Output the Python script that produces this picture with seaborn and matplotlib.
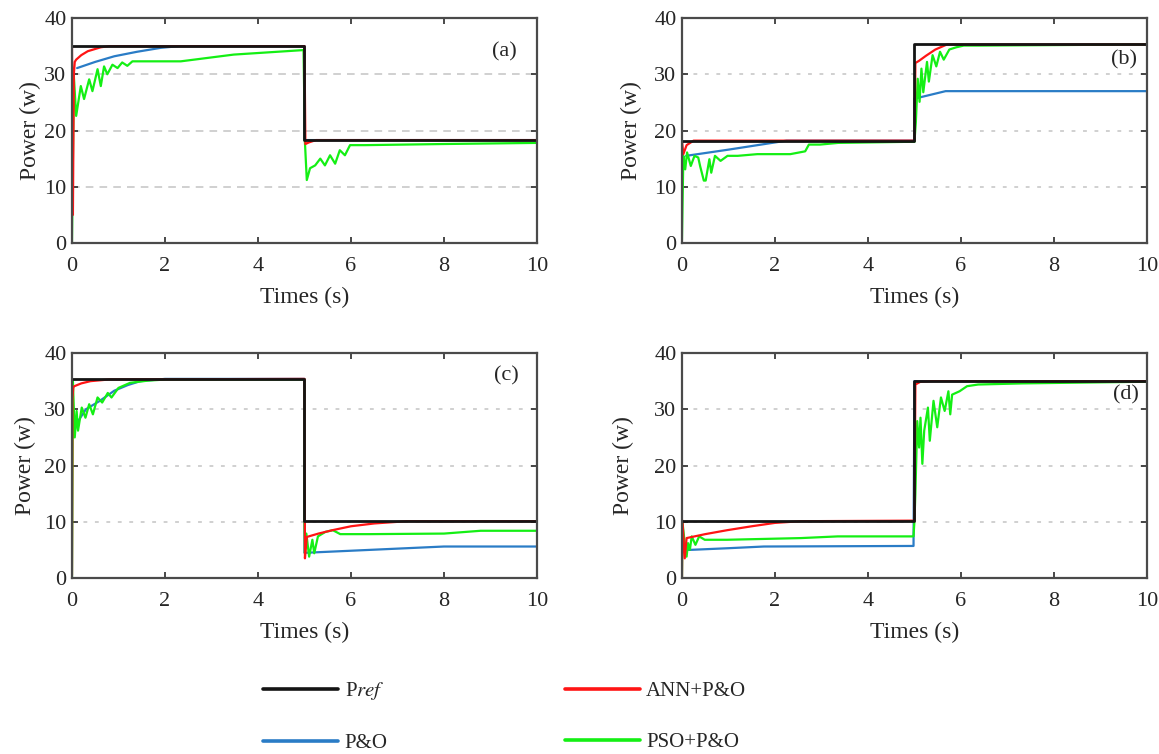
import matplotlib
matplotlib.use("Agg")
import matplotlib.pyplot as plt
from matplotlib.lines import Line2D
import seaborn as sns

# --- chart data ---
TIME_TICKS = [0, 2, 4, 6, 8, 10]
POWER_TICKS = [0, 10, 20, 30, 40]
PANEL_LABELS = ["(a)", "(b)", "(c)", "(d)"]
SERIES_NAMES = ["P$\\mathit{ref}$", "ANN+P&O", "P&O", "PSO+P&O"]

# (a) 35 W -> 18 W
a_pref_t = [0, 5, 5, 10]
a_pref_p = [35.0, 35.0, 18.3, 18.3]
a_ann_t = [0, 0.02, 0.04, 0.06, 0.09, 0.2, 0.34, 0.5, 0.62, 0.8, 5.0, 5.02, 5.1, 5.25, 10]
a_ann_p = [35.0, 5.0, 30.0, 32.2, 32.6, 33.4, 34.1, 34.5, 34.8, 35.0, 35.0, 17.6, 17.9, 18.3, 18.3]
a_po_t = [0.11, 0.5, 0.91, 1.4, 1.91, 2.3, 5.0, 5.0, 10]
a_po_p = [31.1, 32.2, 33.2, 34.0, 34.7, 35.0, 35.0, 18.3, 18.3]
a_pso_t = [0, 0.04, 0.09, 0.19, 0.26, 0.37, 0.44, 0.55, 0.62, 0.69, 0.76, 0.87, 0.98, 1.08,
           1.19, 1.3, 1.48, 2.34, 3.48, 4.98, 5.01, 5.05, 5.12, 5.23, 5.34, 5.44, 5.55, 5.66,
           5.76, 5.87, 5.98, 6.3, 8.0, 10]
a_pso_p = [0, 29.7, 22.6, 27.9, 25.6, 29.1, 27.0, 30.9, 27.9, 31.4, 30.0, 31.7, 31.1, 32.1,
           31.5, 32.3, 32.3, 32.3, 33.5, 34.3, 17.9, 11.2, 13.3, 13.8, 15.0, 13.8, 15.6, 14.1,
           16.5, 15.6, 17.4, 17.4, 17.6, 17.8]

# (b) 18 W -> 35 W
b_pref_t = [0, 5, 5, 10]
b_pref_p = [18.2, 18.2, 35.3, 35.3]
b_ann_t = [0, 0.03, 0.1, 0.25, 5.0, 5.02, 5.1, 5.25, 5.45, 5.7, 10]
b_ann_p = [18.2, 15.8, 17.4, 18.2, 18.2, 32.0, 32.4, 33.3, 34.4, 35.3, 35.3]
b_po_t = [0.09, 1.0, 2.25, 5.0, 5.0, 5.07, 5.67, 10]
b_po_p = [15.5, 16.6, 18.2, 18.2, 25.7, 25.8, 27.0, 27.0]
b_pso_t = [0, 0.03, 0.07, 0.11, 0.19, 0.27, 0.35, 0.39, 0.47, 0.51, 0.59, 0.63, 0.71, 0.83,
           0.98, 1.2, 1.62, 2.33, 2.65, 2.73, 2.97, 3.36, 4.95, 5.0, 5.03, 5.07, 5.11, 5.15,
           5.19, 5.27, 5.31, 5.39, 5.47, 5.55, 5.63, 5.75, 5.9, 6.06, 6.4, 10]
b_pso_p = [0.5, 15.5, 13.1, 16.1, 13.7, 15.5, 15.2, 13.7, 11.1, 11.1, 14.9, 12.5, 15.5, 14.6,
           15.5, 15.5, 15.8, 15.8, 16.3, 17.5, 17.5, 17.8, 18.0, 18.0, 21.5, 29.2, 25.1, 31.0,
           26.8, 32.2, 28.7, 33.4, 31.4, 34.0, 32.6, 34.4, 34.8, 35.1, 35.1, 35.3]

# (c) 35 W -> 10 W
c_pref_t = [0, 5, 5, 10]
c_pref_p = [35.4, 35.4, 10.1, 10.1]
c_ann_t = [0, 0.01, 0.03, 0.05, 0.2, 0.4, 0.8, 5.0, 5.01, 5.05, 5.3, 5.6, 6.0, 6.5, 7.2, 10]
c_ann_p = [0.5, 32.0, 34.0, 34.1, 34.6, 35.0, 35.3, 35.4, 3.5, 7.3, 7.9, 8.5, 9.2, 9.7, 10.1, 10.1]
c_po_t = [0.02, 0.1, 0.3, 0.6, 0.91, 1.2, 1.47, 2.0, 5.0, 5.0, 5.06, 6.4, 8.0, 10]
c_po_p = [25.0, 27.5, 30.0, 31.5, 33.3, 34.3, 35.0, 35.4, 35.4, 4.5, 4.5, 5.0, 5.6, 5.6]
c_pso_t = [0, 0.02, 0.06, 0.1, 0.13, 0.21, 0.29, 0.37, 0.45, 0.55, 0.65, 0.77, 0.85, 1.0,
           1.25, 1.64, 2.04, 5.0, 5.0, 5.01, 5.04, 5.1, 5.17, 5.21, 5.29, 5.45, 5.61, 5.77,
           6.4, 8.0, 8.79, 10]
c_pso_p = [0, 35.0, 25.0, 29.7, 26.2, 30.3, 28.5, 30.9, 29.1, 32.1, 31.2, 32.9, 32.1, 33.8,
           34.7, 35.1, 35.3, 35.3, 10.0, 4.4, 7.9, 3.8, 6.8, 4.4, 7.4, 8.2, 8.5, 7.8,
           7.8, 7.9, 8.4, 8.4]

# (d) 10 W -> 35 W
d_pref_t = [0, 5, 5, 10]
d_pref_p = [10.2, 10.2, 35.0, 35.0]
d_ann_t = [0, 0.01, 0.06, 0.1, 0.5, 0.97, 1.5, 2.0, 2.55, 5.0, 5.02, 5.13, 5.4, 10]
d_ann_p = [0, 10.2, 3.5, 7.1, 7.8, 8.5, 9.2, 9.8, 10.1, 10.2, 34.4, 34.9, 35.0, 35.0]
d_po_t = [0.06, 0.17, 1.0, 1.76, 4.98, 5.0, 10]
d_po_p = [5.0, 5.0, 5.3, 5.6, 5.7, 35.0, 35.0]
d_pso_t = [0, 0.01, 0.06, 0.1, 0.13, 0.17, 0.21, 0.29, 0.37, 0.49, 0.97, 2.56, 3.35, 4.98,
           5.0, 5.02, 5.06, 5.1, 5.13, 5.17, 5.21, 5.29, 5.33, 5.41, 5.49, 5.57, 5.65, 5.73,
           5.77, 5.81, 5.97, 6.13, 6.37, 7.32, 10]
d_pso_p = [0, 10.0, 6.2, 3.8, 6.2, 5.0, 7.4, 5.9, 7.4, 6.8, 6.8, 7.1, 7.4, 7.4,
           10.2, 15.0, 27.9, 23.2, 28.5, 20.3, 26.2, 30.3, 24.4, 31.5, 26.8, 32.1, 29.7, 33.2,
           29.1, 32.6, 33.2, 34.1, 34.4, 34.6, 34.9]

# --- styling ---
sns.set_style("ticks")
plt.rcParams['font.family'] = ['Liberation Serif', 'DejaVu Serif']
plt.rcParams['mathtext.fontset'] = 'stix'

C_PREF = "#141414"
C_ANN = "#ff1414"
C_PO = "#2a7cc6"
C_PSO = "#14ef14"

panels = [
    (a_pref_t, a_pref_p, a_ann_t, a_ann_p, a_po_t, a_po_p, a_pso_t, a_pso_p),
    (b_pref_t, b_pref_p, b_ann_t, b_ann_p, b_po_t, b_po_p, b_pso_t, b_pso_p),
    (c_pref_t, c_pref_p, c_ann_t, c_ann_p, c_po_t, c_po_p, c_pso_t, c_pso_p),
    (d_pref_t, d_pref_p, d_ann_t, d_ann_p, d_po_t, d_po_p, d_pso_t, d_pso_p),
]
label_xy = [(9.3, 33.9), (9.5, 32.6), (9.35, 35.9), (9.55, 32.6)]
grid_dash = [(5, 4), (2.5, 5), (2.5, 5), (2.5, 5)]
ylabel_pad = [2.5, 9.0, 5.5, 14.5]
boxes = [
    [0.0621, 0.6777, 0.4012, 0.2984],
    [0.5884, 0.6777, 0.4012, 0.2984],
    [0.0621, 0.2334, 0.4012, 0.2984],
    [0.5884, 0.2334, 0.4012, 0.2984],
]

fig = plt.figure(figsize=(11.59, 7.54), dpi=100)

for i, (pt, pp, at, ap, ot, op, st, sp) in enumerate(panels):
    ax = fig.add_axes(boxes[i])
    # draw order: P&O, PSO, ANN, reference on top
    sns.lineplot(x=ot, y=op, ax=ax, color=C_PO, lw=1.6, sort=False, estimator=None)
    sns.lineplot(x=st, y=sp, ax=ax, color=C_PSO, lw=1.6, sort=False, estimator=None)
    sns.lineplot(x=at, y=ap, ax=ax, color=C_ANN, lw=1.6, sort=False, estimator=None)
    sns.lineplot(x=pt, y=pp, ax=ax, color=C_PREF, lw=2.0, sort=False, estimator=None)

    ax.set_xlim(0, 10)
    ax.set_ylim(0, 40)
    ax.set_xticks(TIME_TICKS)
    ax.set_yticks(POWER_TICKS)
    ax.yaxis.grid(True, color="#c4c4c4", lw=1.1, dashes=grid_dash[i])
    ax.set_axisbelow(True)
    ax.tick_params(direction="in", top=True, right=True, length=4, width=1.3,
                   color="#3a3a3a", labelsize=16)
    ax.tick_params(axis="x", pad=10)
    ax.tick_params(axis="y", pad=4)
    for s in ax.spines.values():
        s.set_color("#4a4a4a")
        s.set_linewidth(1.6)
    ax.set_xlabel("Times (s)", fontsize=17, labelpad=8)
    ax.set_ylabel("Power (w)", fontsize=17, labelpad=ylabel_pad[i])
    ax.text(label_xy[i][0], label_xy[i][1], PANEL_LABELS[i], fontsize=16,
            ha="center", va="center")

handles = [
    Line2D([], [], color=C_PREF, lw=2.6),
    Line2D([], [], color=C_PO, lw=2.6),
    Line2D([], [], color=C_ANN, lw=2.6),
    Line2D([], [], color=C_PSO, lw=2.6),
]
names = [SERIES_NAMES[0], SERIES_NAMES[2], SERIES_NAMES[1], SERIES_NAMES[3]]
fig.legend(handles, names, ncol=2, frameon=False, fontsize=15,
           loc="upper left", bbox_to_anchor=(255 / 1159, 1 - 672 / 754),
           borderaxespad=0, handlelength=3.6, handletextpad=0.3,
           columnspacing=8.5, labelspacing=1.5)

fig.savefig("out.png", dpi=100)
